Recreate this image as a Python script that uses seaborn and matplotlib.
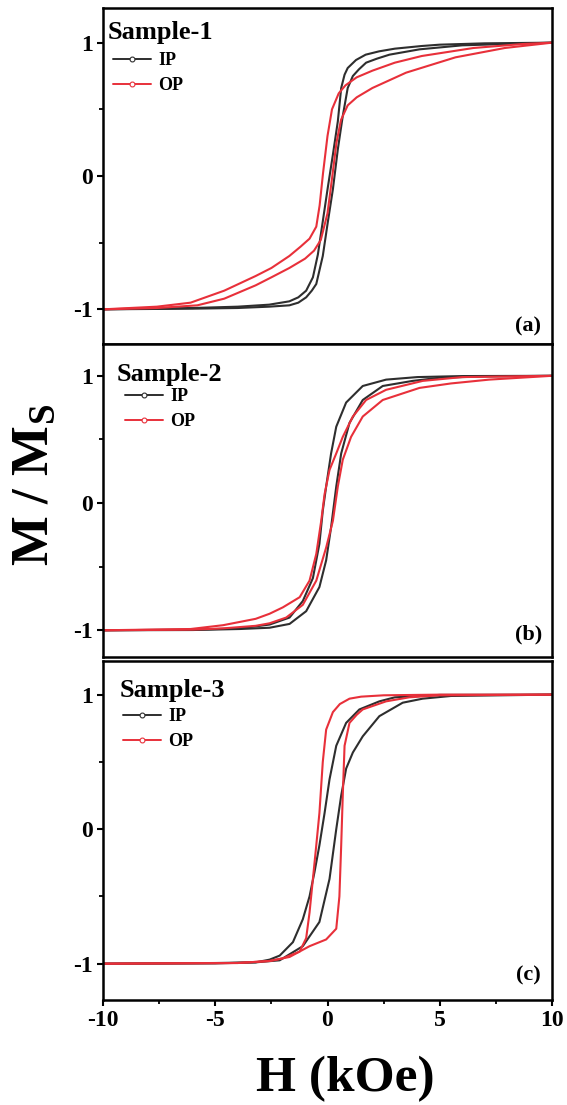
import numpy as np
import pandas as pd
import matplotlib
matplotlib.use("Agg")
import matplotlib.pyplot as plt
from matplotlib.lines import Line2D
from matplotlib.ticker import MultipleLocator
import seaborn as sns

# ---- hysteresis data (H in kOe, M normalised by Ms) ----
# Sample-1
H1_ip_dn = [10, 7, 5, 4.2, 3.0, 2.3, 1.7, 1.27, 0.9, 0.76, 0.61, 0.46, 0.24, 0.01, -0.21, -0.43, -0.65, -0.95, -1.3, -1.7, -2.6, -4, -6, -10]
M1_ip_dn = [1.0, 0.995, 0.985, 0.975, 0.955, 0.935, 0.91, 0.87, 0.81, 0.76, 0.66, 0.41, 0.16, -0.09, -0.34, -0.59, -0.76, -0.86, -0.91, -0.94, -0.965, -0.98, -0.99, -1.0]
H1_ip_up = [-10, -6, -4, -2.6, -1.7, -1.3, -0.95, -0.7, -0.5, -0.21, 0.01, 0.24, 0.46, 0.68, 0.9, 1.13, 1.4, 1.72, 2.2, 2.76, 4.1, 6, 10]
M1_ip_up = [-1.0, -0.995, -0.99, -0.98, -0.97, -0.95, -0.91, -0.86, -0.81, -0.6, -0.35, -0.1, 0.2, 0.45, 0.66, 0.75, 0.8, 0.85, 0.88, 0.91, 0.95, 0.98, 1.0]
H1_op_dn = [10, 8.7, 6.5, 4.2, 3.0, 2.0, 1.3, 0.8, 0.5, 0.2, 0.0, -0.2, -0.35, -0.5, -0.8, -1.2, -1.7, -2.5, -3.2, -4.6, -6.1, -7.6, -10]
M1_op_dn = [1.0, 0.99, 0.96, 0.90, 0.85, 0.79, 0.74, 0.68, 0.62, 0.50, 0.30, 0.02, -0.22, -0.38, -0.47, -0.53, -0.60, -0.69, -0.75, -0.86, -0.95, -0.98, -1.0]
H1_op_up = [-10, -7.6, -5.8, -4.6, -3.2, -2.5, -1.7, -1.0, -0.6, -0.3, 0.0, 0.2, 0.4, 0.6, 0.9, 1.3, 2.0, 3.5, 5.7, 7.9, 10]
M1_op_up = [-1.0, -0.99, -0.97, -0.92, -0.82, -0.76, -0.69, -0.62, -0.56, -0.48, -0.28, -0.02, 0.25, 0.42, 0.53, 0.59, 0.66, 0.775, 0.89, 0.96, 1.0]

# Sample-2
H2_ip_dn = [10, 6, 4, 2.61, 1.57, 0.83, 0.39, 0.16, -0.06, -0.21, -0.36, -0.65, -1.1, -1.69, -2.58, -3.9, -6, -10]
M2_ip_dn = [1.0, 0.998, 0.99, 0.97, 0.92, 0.79, 0.6, 0.39, 0.13, -0.06, -0.32, -0.59, -0.77, -0.9, -0.955, -0.985, -0.995, -1.0]
H2_ip_up = [-10, -6, -3.9, -2.58, -1.69, -0.95, -0.36, -0.06, 0.16, 0.39, 0.61, 0.98, 1.57, 2.46, 3.79, 5, 7, 10]
M2_ip_up = [-1.0, -0.998, -0.99, -0.98, -0.95, -0.85, -0.66, -0.45, -0.19, 0.13, 0.39, 0.63, 0.81, 0.92, 0.96, 0.985, 0.995, 1.0]
H2_op_dn = [10, 6, 4.24, 2.61, 1.72, 1.13, 0.68, 0.39, 0.09, -0.13, -0.28, -0.5, -0.8, -1.24, -1.99, -2.58, -3.2, -4.65, -6.1, -10]
M2_op_dn = [1.0, 0.99, 0.96, 0.89, 0.81, 0.68, 0.52, 0.39, 0.26, 0.07, -0.14, -0.40, -0.61, -0.74, -0.82, -0.87, -0.91, -0.96, -0.99, -1.0]
H2_op_up = [-10, -6, -4.65, -3.2, -2.58, -1.84, -1.1, -0.5, -0.06, 0.24, 0.46, 0.68, 1.05, 1.57, 2.46, 4.1, 5.5, 7.2, 10]
M2_op_up = [-1.0, -0.995, -0.985, -0.965, -0.945, -0.9, -0.8, -0.61, -0.35, -0.14, 0.13, 0.34, 0.52, 0.68, 0.81, 0.905, 0.94, 0.97, 1.0]

# Sample-3
H3_ip_dn = [10, 5, 3.0, 2.31, 1.42, 0.83, 0.39, 0.09, -0.13, -0.36, -0.58, -0.8, -1.1, -1.54, -2.13, -2.58, -3.2, -5, -10]
M3_ip_dn = [1.0, 0.998, 0.98, 0.95, 0.89, 0.79, 0.62, 0.37, 0.12, -0.12, -0.32, -0.5, -0.67, -0.84, -0.94, -0.97, -0.99, -0.995, -1.0]
H3_ip_up = [-10, -5, -3.2, -2.13, -1.1, -0.36, 0.09, 0.39, 0.61, 0.83, 1.13, 1.57, 2.31, 3.35, 4.24, 5.5, 10]
M3_ip_up = [-1.0, -0.998, -0.99, -0.975, -0.87, -0.69, -0.37, 0.0, 0.25, 0.45, 0.57, 0.69, 0.84, 0.94, 0.97, 0.99, 1.0]
H3_op_dn = [10, 5, 2.5, 1.5, 0.98, 0.55, 0.24, -0.06, -0.21, -0.36, -0.5, -0.65, -0.8, -0.95, -1.24, -1.99, -2.58, -4, -10]
M3_op_dn = [1.0, 1.0, 0.995, 0.985, 0.97, 0.93, 0.87, 0.74, 0.50, 0.12, -0.12, -0.37, -0.62, -0.81, -0.91, -0.96, -0.98, -0.995, -1.0]
H3_op_up = [-10, -4, -2.58, -1.69, -0.8, -0.06, 0.39, 0.53, 0.61, 0.68, 0.76, 0.98, 1.3, 1.57, 2.61, 3.64, 5, 10]
M3_op_up = [-1.0, -0.995, -0.98, -0.95, -0.87, -0.82, -0.74, -0.5, -0.12, 0.25, 0.62, 0.79, 0.85, 0.89, 0.95, 0.98, 0.995, 1.0]

samples = ["Sample-1", "Sample-2", "Sample-3"]
panel_tags = ["(a)", "(b)", "(c)"]
modes = ["IP", "OP"]
colors = {"IP": "#2e2e2e", "OP": "#e8303a"}

branches = {
    "Sample-1": {"IP": [(H1_ip_dn, M1_ip_dn), (H1_ip_up, M1_ip_up)],
                 "OP": [(H1_op_dn, M1_op_dn), (H1_op_up, M1_op_up)]},
    "Sample-2": {"IP": [(H2_ip_dn, M2_ip_dn), (H2_ip_up, M2_ip_up)],
                 "OP": [(H2_op_dn, M2_op_dn), (H2_op_up, M2_op_up)]},
    "Sample-3": {"IP": [(H3_ip_dn, M3_ip_dn), (H3_ip_up, M3_ip_up)],
                 "OP": [(H3_op_dn, M3_op_dn), (H3_op_up, M3_op_up)]},
}

# long table: one row per measured point
rows = []
for s in samples:
    for m in modes:
        for b, (hh, mm) in enumerate(branches[s][m]):
            for h, v in zip(hh, mm):
                rows.append({"sample": s, "mode": m, "branch": f"{m}-{b}", "H": h, "M": v})
df = pd.DataFrame(rows)

sns.set_theme(style="white")
serif = "Liberation Serif"
plt.rcParams.update({
    "font.family": [serif, "DejaVu Serif"],
    "font.weight": "bold",
    "text.color": "black",
    "axes.labelcolor": "black",
    "xtick.color": "black",
    "ytick.color": "black",
    "axes.unicode_minus": False,
    "mathtext.fontset": "custom",
    "mathtext.rm": f"{serif}:bold",
    "mathtext.bf": f"{serif}:bold",
    "mathtext.it": f"{serif}:bold",
})

fig = plt.figure(figsize=(5.67, 11.05), dpi=100)
left, width = 103 / 567, 449 / 567
# (top, bottom) of each panel in pixels
spans = [(8, 344), (344, 657), (661, 1000)]
ylims = [(-1.26, 1.26), (-1.21, 1.25), (-1.27, 1.25)]
legend_anchor = [(0.022, 0.869), (0.049, 0.859), (0.045, 0.861)]
title_pos = [(0.011, 0.928), (0.031, 0.904), (0.038, 0.914)]
tag_pos = [(0.947, 0.051), (0.947, 0.071), (0.947, 0.071)]

for i, s in enumerate(samples):
    top, bot = spans[i]
    ax = fig.add_axes([left, 1 - bot / 1105, width, (bot - top) / 1105])
    sub = df[df["sample"] == s]
    sns.lineplot(data=sub, x="H", y="M", hue="mode", units="branch",
                 estimator=None, sort=False, palette=colors,
                 hue_order=modes, linewidth=1.5, legend=False, ax=ax)
    ax.set_xlim(-10, 10)
    ax.set_ylim(*ylims[i])
    ax.set_xlabel("")
    ax.set_ylabel("")
    ax.yaxis.set_major_locator(MultipleLocator(1))
    ax.yaxis.set_minor_locator(MultipleLocator(0.5))
    ax.xaxis.set_major_locator(MultipleLocator(5))
    ax.xaxis.set_minor_locator(MultipleLocator(2.5))
    for sp in ax.spines.values():
        sp.set_linewidth(1.8)
        sp.set_color("black")
    ax.tick_params(axis="y", which="major", direction="out", length=4, width=1.5,
                   labelsize=17, pad=3, left=True)
    ax.tick_params(axis="y", which="minor", direction="out", length=3, width=1.3, left=True)
    if i < 2:
        ax.tick_params(axis="x", which="both", bottom=False, labelbottom=False)
    else:
        ax.tick_params(axis="x", which="major", direction="out", length=4, width=1.5,
                       labelsize=17, pad=3, bottom=True)
        ax.tick_params(axis="x", which="minor", direction="out", length=3, width=1.3, bottom=True)
    for lab in ax.get_xticklabels() + ax.get_yticklabels():
        lab.set_fontweight("bold")

    ax.text(*title_pos[i], s, transform=ax.transAxes, fontsize=19,
            fontweight="bold", ha="left", va="center")
    ax.text(*tag_pos[i], panel_tags[i], transform=ax.transAxes, fontsize=16,
            fontweight="bold", ha="center", va="center")

    handles = [Line2D([], [], color=colors[m], lw=1.4, marker="o", markersize=3.5,
                      markerfacecolor="white", markeredgecolor=colors[m],
                      markeredgewidth=0.8) for m in modes]
    ax.legend(handles, modes, loc="upper left", bbox_to_anchor=legend_anchor[i],
              frameon=False, borderpad=0, borderaxespad=0, handlelength=2.1,
              handletextpad=0.4, labelspacing=0.45,
              prop={"family": serif, "weight": "bold", "size": 13})

fig.text(35 / 567, 1 - 485 / 1105, r"M / M$_{\mathrm{S}}$", rotation=90,
         ha="center", va="center", fontsize=38, fontweight="bold")
fig.text(345 / 567, 1 - 1079 / 1105, "H (kOe)", ha="center", va="center",
         fontsize=37, fontweight="bold")

fig.savefig("out.png", dpi=100)
